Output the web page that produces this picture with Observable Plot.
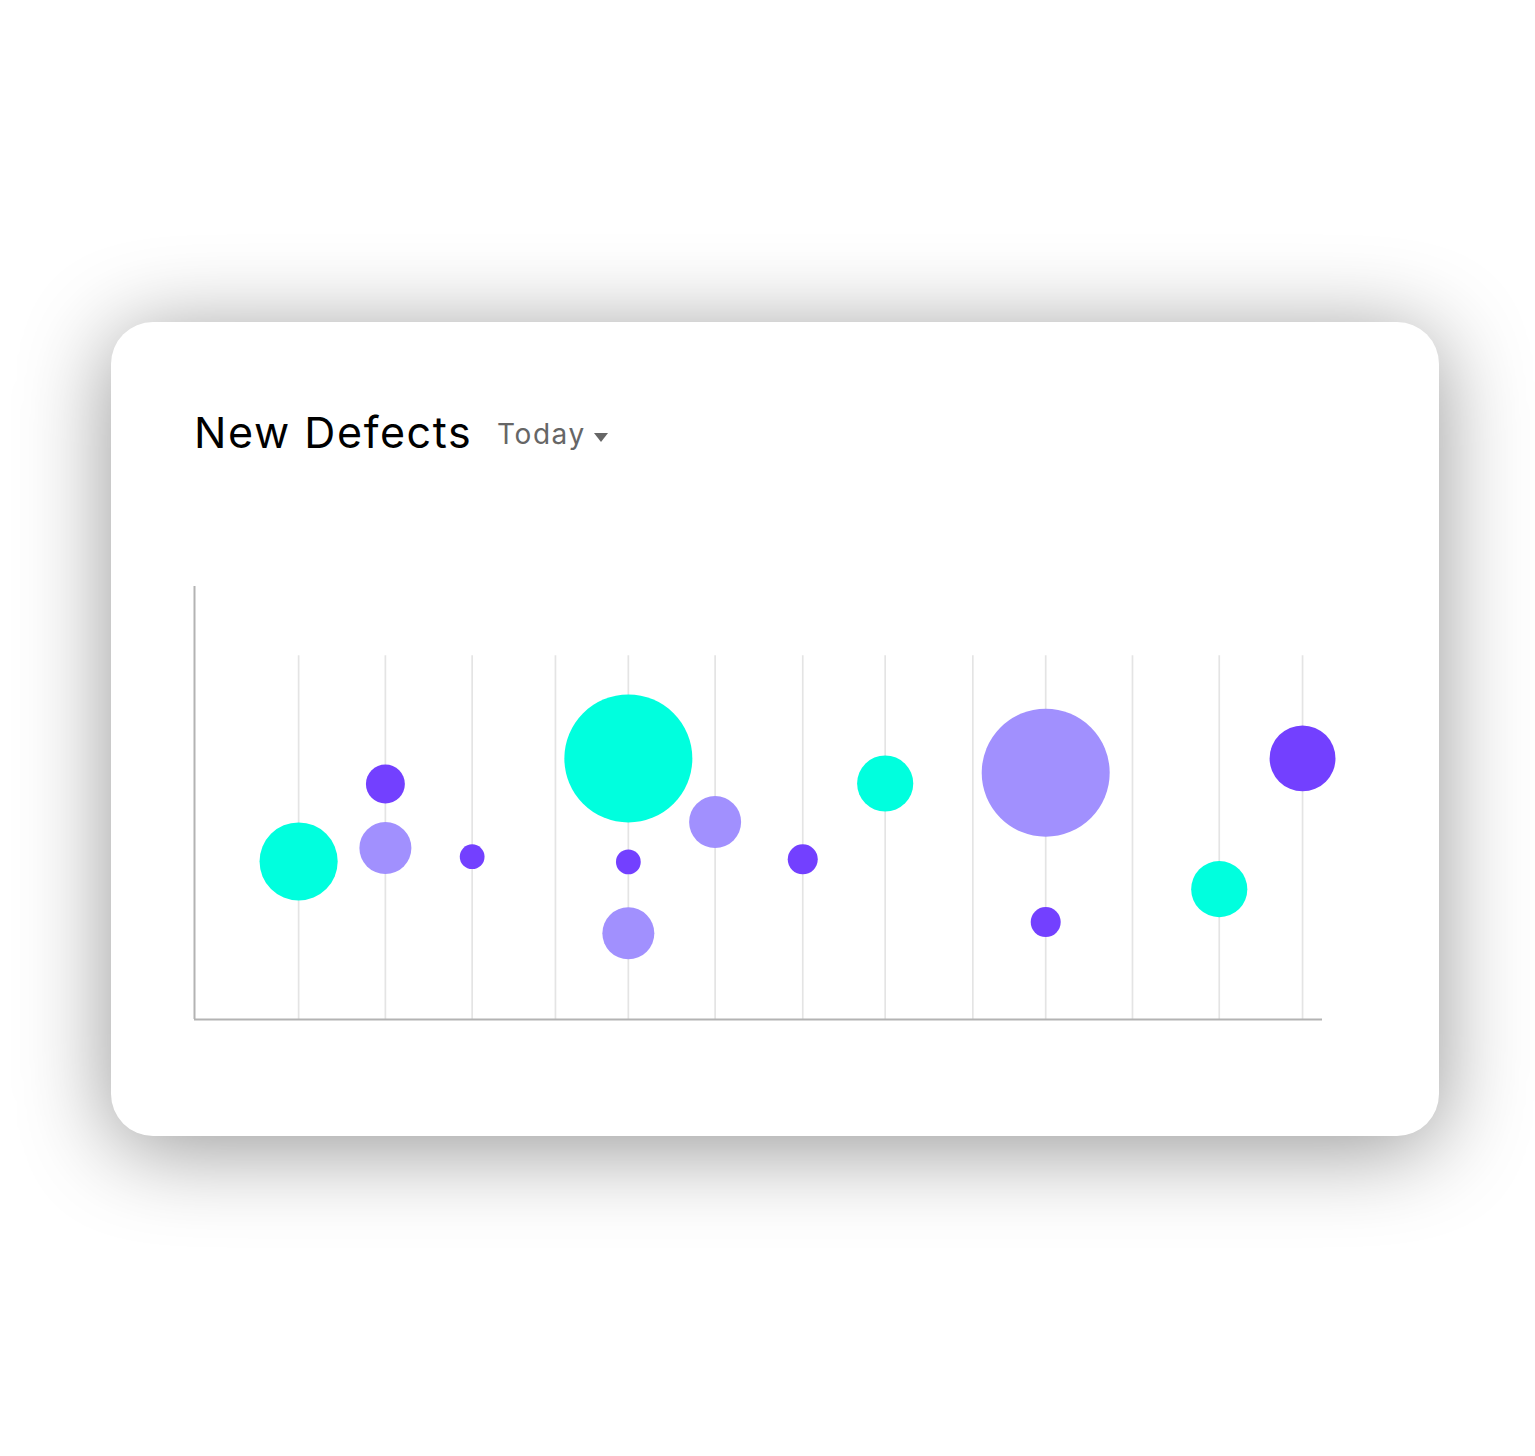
<!DOCTYPE html>
<html>
<head>
<meta charset="utf-8">
<script src="https://cdn.jsdelivr.net/npm/d3@7"></script>
<script src="https://cdn.jsdelivr.net/npm/@observablehq/plot@0.6"></script>
<style>
  html, body { margin: 0; padding: 0; background: #fff; width: 1535px; height: 1456px; overflow: hidden; }
  #card {
    position: absolute; left: 111px; top: 322px; width: 1328px; height: 814px;
    background: #fff; border-radius: 42px;
    box-shadow: 0 12px 90px rgba(0,0,0,0.42);
  }
  #title {
    position: absolute; left: 83px; top: 84px; font-family: Inter, "Open Sans", sans-serif;
    font-size: 43px; font-weight: 400; color: #000; white-space: nowrap; letter-spacing: 1.6px;
  }
  #period {
    position: absolute; left: 386px; top: 95px; font-family: Inter, "Open Sans", sans-serif;
    font-size: 28px; color: #666; white-space: nowrap; letter-spacing: 1.6px;
  }
  #period .caret { display: inline-block; width: 0; height: 0; border-left: 7px solid transparent; border-right: 7px solid transparent; border-top: 9px solid #666; margin-left: 8px; vertical-align: 2px; }
  #chart { position: absolute; left: 0; top: 200px; }
</style>
</head>
<body>
<div id="card">
  <div id="title">New Defects</div>
  <div id="period">Today<span class="caret"></span></div>
  <div id="chart"></div>
</div>
<script>
// Gridline positions (x) along the horizontal axis
const gridX = [1.2, 2.2, 3.2, 4.16, 5.0, 6.0, 7.01, 7.96, 8.97, 9.81, 10.81, 11.81, 12.77];
const gridTop = 84;

// Bubble series
const series = ["Critical", "Major", "Minor"];
const seriesColors = ["#00FFDE", "#A190FE", "#7340FF"];

const bubbleX     = [1.2, 2.2, 2.2, 3.2, 5.0, 5.0, 5.0, 6.0, 7.01, 7.96, 9.81, 9.81, 11.81, 12.77];
const bubbleY     = [36.5, 54.4, 39.6, 37.6, 60.3, 36.4, 19.9, 45.6, 37.0, 54.5, 57.0, 22.5, 30.1, 60.3];
const bubbleSize  = [14.9, 3.7, 6.6, 1.5, 40, 1.5, 6.6, 6.6, 2.2, 7.7, 40, 2.2, 7.7, 10.6];
const bubbleGroup = ["Critical", "Minor", "Major", "Minor", "Critical", "Minor", "Major", "Major", "Minor", "Critical", "Major", "Minor", "Critical", "Minor"];

const bubbles = bubbleX.map((x, i) => ({x, y: bubbleY[i], size: bubbleSize[i], group: bubbleGroup[i]}))
  .sort((a, b) => b.size - a.size);

const plot = Plot.plot({
  width: 1328,
  height: 614,
  marginLeft: 83,
  marginRight: 117,
  marginTop: 64,
  marginBottom: 117,
  x: {domain: [0, 13], axis: null},
  y: {domain: [0, 100], axis: null},
  r: {domain: [0, 40], range: [0, 64]},
  color: {domain: series, range: seriesColors},
  style: {background: "transparent", overflow: "visible", maxWidth: "none"},
  marks: [
    Plot.ruleX(gridX, {x: d => d, y1: 0, y2: gridTop, stroke: "#e4e4e4", strokeWidth: 1.7}),
    Plot.ruleX([0], {y1: 0, y2: 100, stroke: "#b3b3b3", strokeWidth: 2}),
    Plot.ruleY([0], {x1: 0, x2: 13, stroke: "#b3b3b3", strokeWidth: 2}),
    Plot.dot(bubbles, {x: "x", y: "y", r: "size", fill: "group", stroke: "none"})
  ]
});
document.getElementById("chart").appendChild(plot);
</script>
</body>
</html>
